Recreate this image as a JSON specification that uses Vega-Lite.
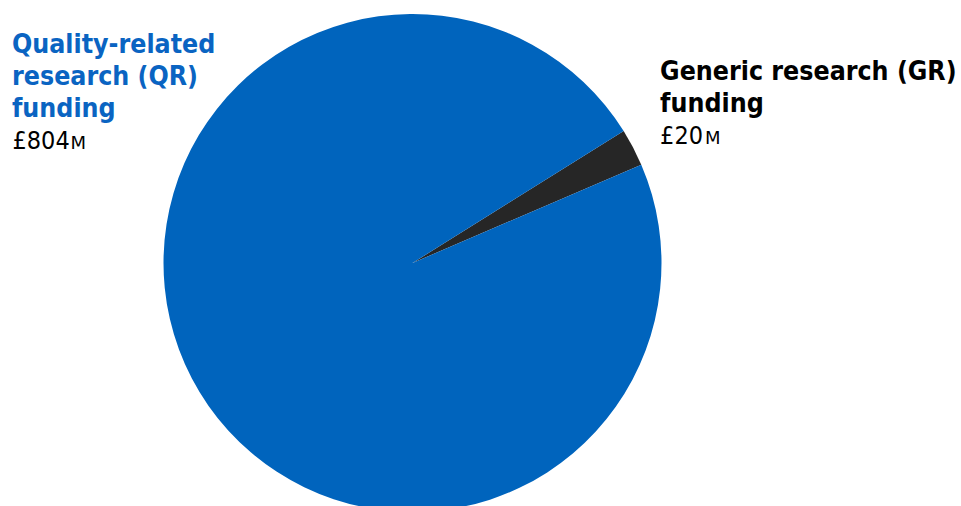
{
  "$schema": "https://vega.github.io/schema/vega-lite/v6.json",
  "width": 825,
  "height": 526,
  "autosize": {"type": "none"},
  "padding": {"left": 0, "top": 0, "right": 136, "bottom": 0},
  "background": "white",
  "config": {"view": {"stroke": null}, "font": "DejaVu Sans Condensed"},
  "data": {
    "values": [
      {"source": "Generic research (GR)\nfunding", "amount": 20, "value": "£20", "unit": "M"},
      {"source": "Quality-related\nresearch (QR)\nfunding", "amount": 804, "value": "£804", "unit": "M"}
    ]
  },
  "encoding": {
    "theta": {"field": "amount", "type": "quantitative", "stack": true, "scale": {"range": [1.0123, 7.2955]}},
    "order": {"field": "amount", "type": "quantitative", "sort": "ascending"}
  },
  "layer": [
    {
      "mark": {"type": "arc", "outerRadius": 249, "stroke": null},
      "encoding": {
        "color": {
          "field": "amount",
          "type": "nominal",
          "scale": {"domain": [20, 804], "range": ["#262626", "#0064bd"]},
          "legend": null
        }
      }
    },
    {
      "transform": [{"filter": "datum.amount == 20"}],
      "layer": [
        {
          "mark": {"type": "text", "radius": 249, "align": "left", "baseline": "alphabetic", "dx": 27, "dy": -67.6, "fontSize": 26.5, "fontWeight": "bold", "lineBreak": "\n", "lineHeight": 32, "color": "#000000"},
          "encoding": {"text": {"field": "source"}}
        },
        {
          "mark": {"type": "text", "radius": 249, "align": "left", "baseline": "alphabetic", "dx": 27, "dy": -3.6, "fontSize": 25, "color": "#000000"},
          "encoding": {"text": {"field": "value"}}
        },
        {
          "mark": {"type": "text", "radius": 249, "align": "left", "baseline": "alphabetic", "font": "DejaVu Sans", "dx": 72, "dy": -3.6, "fontSize": 18, "color": "#000000"},
          "encoding": {"text": {"field": "unit"}}
        }
      ]
    },
    {
      "transform": [{"filter": "datum.amount == 804"}],
      "layer": [
        {
          "mark": {"type": "text", "radius": 249, "align": "left", "baseline": "alphabetic", "dx": -200, "dy": -357.4, "fontSize": 26.5, "fontWeight": "bold", "lineBreak": "\n", "lineHeight": 32, "color": "#0a64c2"},
          "encoding": {"text": {"field": "source"}}
        },
        {
          "mark": {"type": "text", "radius": 249, "align": "left", "baseline": "alphabetic", "dx": -199.5, "dy": -261.7, "fontSize": 25, "color": "#000000"},
          "encoding": {"text": {"field": "value"}}
        },
        {
          "mark": {"type": "text", "radius": 249, "align": "left", "baseline": "alphabetic", "font": "DejaVu Sans", "dx": -141.5, "dy": -261.7, "fontSize": 18, "color": "#000000"},
          "encoding": {"text": {"field": "unit"}}
        }
      ]
    }
  ]
}
